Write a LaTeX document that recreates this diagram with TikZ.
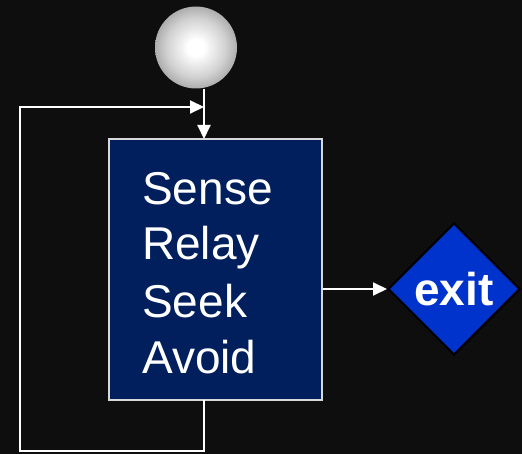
\documentclass[tikz,border=0pt]{standalone}
\usepackage{fontspec}
\setmainfont{Liberation Sans}
\usetikzlibrary{arrows.meta,shapes.geometric,calc}
\definecolor{bg}{HTML}{0E0E0E}
\definecolor{boxblue}{HTML}{001F5C}
\definecolor{exitblue}{HTML}{0033CC}
\definecolor{rim}{HTML}{D8D8D8}
% soft grey sphere: white centre fading to mid grey at the rim
\pgfdeclareradialshading{sphere}{\pgfpoint{0bp}{0bp}}{%
  color(0bp)=(white); color(5bp)=(white); color(18bp)=(black!18);
  color(35bp)=(black!52); color(50bp)=(black!52)}
\begin{document}
\begin{tikzpicture}[x=1pt,y=-1pt,
  wire/.style={draw=white,line width=2pt},
  tip/.style={-{Triangle[length=14pt,width=13pt]}},
  stagebox/.style={draw=rim,line width=1.5pt,fill=boxblue,minimum width=213pt,minimum height=261pt,inner sep=0pt},
  label/.style={text=white,font=\fontsize{46}{56}\selectfont,anchor=base west,inner sep=0pt},
  exitnode/.style={diamond,draw=black,line width=2pt,fill=exitblue,minimum width=132pt,minimum height=132pt,inner sep=0pt,text=white,font=\bfseries\fontsize{46}{50}\selectfont}]
  % background and page size
  \fill[bg] (0,0) rectangle (522,454);
  % start ball
  \node[circle,minimum size=82pt,inner sep=0pt,shading=sphere] (start) at (196,47.5) {};
  % main stage box with its four behaviours
  \node[stagebox] (stage) at (215.5,269.5) {};
  \node[label] (l1) at (142,205) {Sense};
  \node[label] (l2) at (142,260) {Relay};
  \node[label] (l3) at (142,317) {Seek};
  \node[label] (l4) at (142,373) {Avoid};
  % exit diamond
  \node[exitnode] (exit) at (454,289) {exit};
  % helper points on the feedback loop
  \coordinate (top) at (204,89);
  \coordinate (entry) at (204,139);
  \coordinate (join) at (204,107);
  \coordinate (out) at (204,400);
  \coordinate (c1) at (204,451);
  \coordinate (c2) at (20,451);
  \coordinate (c3) at (20,107);
  % connectors
  \draw[wire,tip] (top) -- (entry);
  \draw[wire,tip] (out) -- (c1) -- (c2) -- (c3) -- (join);
  \draw[wire,tip] (stage.east |- exit.west) -- (exit.west);
\end{tikzpicture}
\end{document}
